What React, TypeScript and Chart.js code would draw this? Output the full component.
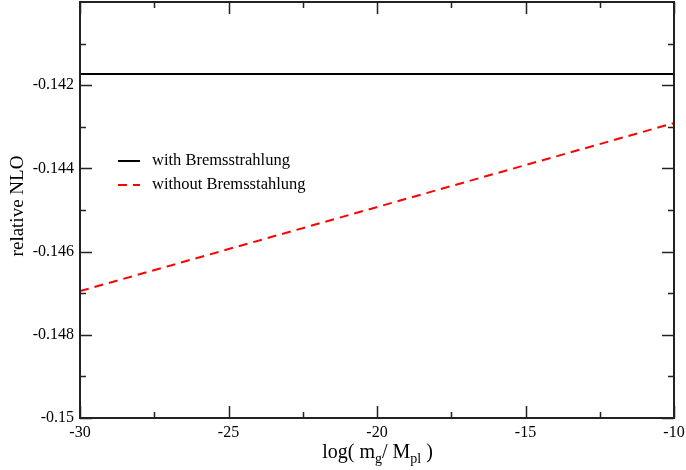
import React, { useEffect, useRef } from "react";
import { Chart, registerables } from "chart.js";

Chart.register(...registerables);

const xValues = [-30, -10];
const withBrems = [-0.14173, -0.14173];
const withoutBrems = [-0.14695, -0.14291];
const yMajorTicks = [-0.15, -0.148, -0.146, -0.144, -0.142];
const yMinorTicks = [-0.149, -0.147, -0.145, -0.143, -0.141];
const xMajorTicks = [-30, -25, -20, -15, -10];
const xMinorTicks = [-27.5, -22.5, -17.5, -12.5];
const seriesLabels = ["with Bremsstrahlung", "without Bremsstahlung"];

const SERIF = "'Liberation Serif', 'Times New Roman', serif";

const decorPlugin = {
  id: "decor",
  afterDraw(chart: any) {
    const ctx = chart.ctx as CanvasRenderingContext2D;
    const { left, right, top, bottom } = chart.chartArea;
    const xs = chart.scales.x;
    const ys = chart.scales.y;
    ctx.save();
    ctx.strokeStyle = "#222";
    ctx.lineWidth = 1.5;
    const majorLen = 12;
    const minorLen = 6;
    const drawX = (v: number, len: number) => {
      const px = Math.round(xs.getPixelForValue(v)) + 0.5;
      ctx.beginPath();
      ctx.moveTo(px, bottom);
      ctx.lineTo(px, bottom - len);
      ctx.moveTo(px, top);
      ctx.lineTo(px, top + len);
      ctx.stroke();
    };
    const drawY = (v: number, len: number) => {
      const py = Math.round(ys.getPixelForValue(v)) + 0.5;
      ctx.beginPath();
      ctx.moveTo(left, py);
      ctx.lineTo(left + len, py);
      ctx.moveTo(right, py);
      ctx.lineTo(right - len, py);
      ctx.stroke();
    };
    xMajorTicks.forEach((v) => drawX(v, majorLen));
    xMinorTicks.forEach((v) => drawX(v, minorLen));
    yMajorTicks.forEach((v) => drawY(v, majorLen));
    yMinorTicks.forEach((v) => drawY(v, minorLen));
    ctx.strokeStyle = "#222";
    ctx.lineWidth = 2;
    ctx.strokeRect(left, top, right - left, bottom - top);

    const lx0 = 118;
    const lx1 = 140;
    const ly = [161, 185];
    const dsets = chart.data.datasets;
    ctx.font = `16.5px ${SERIF}`;
    ctx.textBaseline = "middle";
    ctx.textAlign = "left";
    dsets.forEach((d: any, i: number) => {
      ctx.strokeStyle = d.borderColor;
      ctx.lineWidth = 2;
      ctx.setLineDash(d.borderDash || []);
      ctx.beginPath();
      ctx.moveTo(lx0, ly[i]);
      ctx.lineTo(lx1, ly[i]);
      ctx.stroke();
      ctx.setLineDash([]);
      ctx.fillStyle = "#000";
      ctx.fillText(d.label, 152, ly[i]);
    });

    ctx.save();
    ctx.translate(18, 206);
    ctx.rotate(-Math.PI / 2);
    ctx.font = `19px ${SERIF}`;
    ctx.textAlign = "center";
    ctx.textBaseline = "middle";
    ctx.fillStyle = "#000";
    ctx.fillText("relative NLO", 0, 0);
    ctx.restore();

    const parts: [string, boolean][] = [
      ["log( m", false],
      ["g", true],
      ["/ M", false],
      ["pl", true],
      [" )", false],
    ];
    const mainFont = `20px ${SERIF}`;
    const subFont = `14px ${SERIF}`;
    let total = 0;
    const widths = parts.map(([t, sub]) => {
      ctx.font = sub ? subFont : mainFont;
      const w = ctx.measureText(t).width;
      total += w;
      return w;
    });
    let cx = 377.5 - total / 2;
    const baseY = 458;
    ctx.textAlign = "left";
    ctx.textBaseline = "alphabetic";
    ctx.fillStyle = "#000";
    parts.forEach(([t, sub], i) => {
      ctx.font = sub ? subFont : mainFont;
      ctx.fillText(t, cx, sub ? baseY + 5 : baseY);
      cx += widths[i];
    });
    ctx.restore();
  },
};

export default function App() {
  const ref = useRef<HTMLCanvasElement | null>(null);
  useEffect(() => {
    if (!ref.current) return;
    const chart = new Chart(ref.current, {
      type: "line",
      data: {
        datasets: [
          {
            label: seriesLabels[0],
            data: xValues.map((x, i) => ({ x, y: withBrems[i] })),
            borderColor: "#000000",
            borderWidth: 2,
            pointRadius: 0,
            fill: false,
            tension: 0,
          },
          {
            label: seriesLabels[1],
            data: xValues.map((x, i) => ({ x, y: withoutBrems[i] })),
            borderColor: "#ff0000",
            borderWidth: 2,
            borderDash: [9, 6],
            pointRadius: 0,
            fill: false,
            tension: 0,
          },
        ],
      },
      options: {
        animation: false,
        responsive: false,
        layout: { padding: { top: 2, right: 12, left: 0, bottom: 0 } },
        plugins: {
          legend: { display: false },
          tooltip: { enabled: false },
        },
        scales: {
          x: {
            type: "linear",
            min: -30,
            max: -10,
            grid: { display: false, drawTicks: false },
            border: { display: false },
            afterBuildTicks: (scale: any) => {
              scale.ticks = xMajorTicks.map((v) => ({ value: v }));
            },
            afterFit: (scale: any) => {
              scale.height = 52;
              scale.paddingLeft = 0;
              scale.paddingRight = 0;
            },
            ticks: {
              padding: 5,
              color: "#000",
              font: { family: SERIF, size: 16 },
              maxRotation: 0,
              callback: (v: any) => String(v),
            },
          },
          y: {
            type: "linear",
            min: -0.15,
            max: -0.14,
            grid: { display: false, drawTicks: false },
            border: { display: false },
            afterBuildTicks: (scale: any) => {
              scale.ticks = yMajorTicks.map((v) => ({ value: v }));
            },
            afterFit: (scale: any) => {
              scale.width = 80;
              scale.paddingTop = 0;
              scale.paddingBottom = 0;
            },
            ticks: {
              padding: 6,
              color: "#000",
              font: { family: SERIF, size: 16 },
              callback: (v: any) => String(Number(Number(v).toFixed(3))),
            },
          },
        },
      },
      plugins: [decorPlugin],
    } as any);
    return () => chart.destroy();
  }, []);
  return (
    <div style={{ position: "fixed", left: 0, top: 0, width: 686, height: 470, background: "#fff" }}>
      <canvas ref={ref} width={686} height={470} style={{ display: "block" }} />
    </div>
  );
}
